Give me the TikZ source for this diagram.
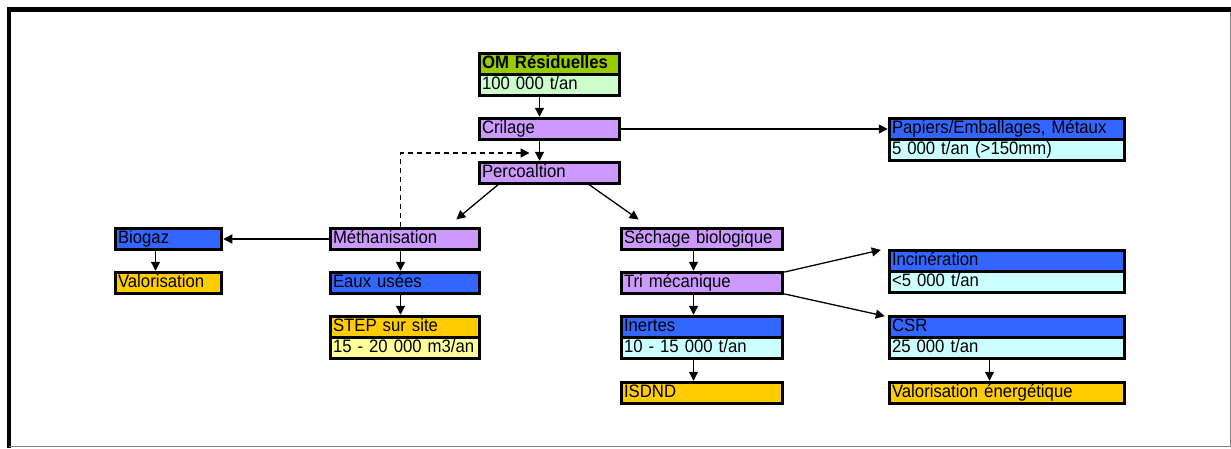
\documentclass[tikz,border=0pt]{standalone}
\usepackage{fontspec}
\setmainfont[FakeStretch=0.93]{Liberation Sans}
\usetikzlibrary{positioning,arrows.meta}

\definecolor{omgreen}{HTML}{99CC00}
\definecolor{palegreen}{HTML}{CCFFCC}
\definecolor{procpurple}{HTML}{CC99FF}
\definecolor{flowblue}{HTML}{3366FF}
\definecolor{palecyan}{HTML}{CCFFFF}
\definecolor{endorange}{HTML}{FFCC00}
\definecolor{paleyellow}{HTML}{FFFF99}

\tikzset{
  cell/.style={draw=black, line width=3.5pt, anchor=north west, outer sep=0pt,
    inner xsep=2.5pt, inner ysep=0pt, minimum height=21pt, align=left,
    text height=12.5pt, text depth=3.5pt, font=\fontsize{18}{20}\selectfont},
  wa/.style={cell, text width=135pt},
  wb/.style={cell, text width=230pt},
  wc/.style={cell, text width=144pt},
  wd/.style={cell, text width=101pt},
  we/.style={cell, text width=156pt},
  arr/.style={-{Triangle[length=9pt,width=9pt]}, line width=1.3pt,
    shorten >=1.75pt, shorten <=1.75pt}
}

\begin{document}
\begin{tikzpicture}[x=1pt,y=-1pt]
    \useasboundingbox (0,0) rectangle (1231,448);
    % frame
    \draw[line width=4.5pt] (1231,9.5) -- (9,9.5) -- (9,448);
    \draw[gray, line width=1pt] (9,446.5) -- (1230.5,446.5) -- (1230.5,12);

    % centre column
    \node[wa, fill=omgreen] (omA) at (479.5,53.5) {\textbf{OM Résiduelles}};
    \node[wa, fill=palegreen, below=0pt of omA] (omB) {100 000 t/an};
    \node[wa, fill=procpurple] (cril) at (479.5,118.5) {Crilage};
    \node[wa, fill=procpurple] (perc) at (479.5,162.5) {Percoaltion};
    \node[wb, fill=flowblue] (papA) at (889.5,118.5) {Papiers/Emballages, Métaux};
    \node[wb, fill=palecyan, below=0pt of papA] (papB) {5 000 t/an (>150mm)};

    % methanisation branch
    \node[wc, fill=procpurple] (meth) at (330.5,228.5) {Méthanisation};
    \node[wd, fill=flowblue] (bio) at (115.5,228.5) {Biogaz};
    \node[wd, fill=endorange] (valo) at (115.5,272.5) {Valorisation};
    \node[wc, fill=flowblue] (eaux) at (330.5,272.5) {Eaux usées};
    \node[wc, fill=endorange] (stepA) at (330.5,316.5) {STEP sur site};
    \node[wc, fill=paleyellow, below=0pt of stepA] (stepB) {15 - 20 000 m3/an};

    % sechage branch
    \node[we, fill=procpurple] (sech) at (621.5,228.5) {Séchage biologique};
    \node[we, fill=procpurple] (tri) at (621.5,272.5) {Tri mécanique};
    \node[we, fill=flowblue] (inertA) at (621.5,316.5) {Inertes};
    \node[we, fill=palecyan, below=0pt of inertA] (inertB) {10 - 15 000 t/an};
    \node[we, fill=endorange] (isdnd) at (621.5,382.5) {ISDND};
    \node[wb, fill=flowblue] (inciA) at (889.5,250.5) {Incinération};
    \node[wb, fill=palecyan, below=0pt of inciA] (inciB) {<5 000 t/an};
    \node[wb, fill=flowblue] (csrA) at (889.5,316.5) {CSR};
    \node[wb, fill=palecyan, below=0pt of csrA] (csrB) {25 000 t/an};
    \node[wb, fill=endorange] (valen) at (889.5,382.5) {Valorisation énergétique};

    \coordinate (back) at ([xshift=-20pt,yshift=9.5pt]perc.north);

    % connectors
    \draw[arr] ([xshift=-10pt]omB.south) -- ([xshift=-10pt]cril.north);
    \draw[arr] ([xshift=-10pt]cril.south) -- ([xshift=-10pt]perc.north);
    \draw[arr] (cril.east) -- (papA.west);
    \draw[arr] ([xshift=-50pt]perc.south) -- ([xshift=50pt,yshift=8pt]meth.north);
    \draw[arr] ([xshift=38pt]perc.south) -- ([xshift=-62pt,yshift=8pt]sech.north);
    \draw[arr] (meth.west) -- (bio.east);
    \draw[arr] ([xshift=-13pt]bio.south) -- ([xshift=-13pt]valo.north);
    \draw[arr] ([xshift=-4.5pt]meth.south) -- ([xshift=-4.5pt]eaux.north);
    \draw[arr] ([xshift=-4.5pt]eaux.south) -- ([xshift=-4.5pt]stepA.north);
    \draw[arr] ([xshift=-8.5pt]sech.south) -- ([xshift=-8.5pt]tri.north);
    \draw[arr] ([xshift=-8.5pt]tri.south) -- ([xshift=-8.5pt]inertA.north);
    \draw[arr] ([xshift=-8.5pt]inertB.south) -- ([xshift=-8.5pt]isdnd.north);
    \draw[arr] (tri.north east) -- ([xshift=-7pt,yshift=1pt]inciA.north west);
    \draw[arr] (tri.south east) -- ([xshift=-3pt]csrA.north west);
    \draw[arr] ([xshift=-17.5pt]csrB.south) -- ([xshift=-17.5pt]valen.north);
    \draw[arr, dash pattern=on 5pt off 4pt, shorten >=0pt] ([xshift=-4.5pt]meth.north) |- (back);
\end{tikzpicture}
\end{document}
